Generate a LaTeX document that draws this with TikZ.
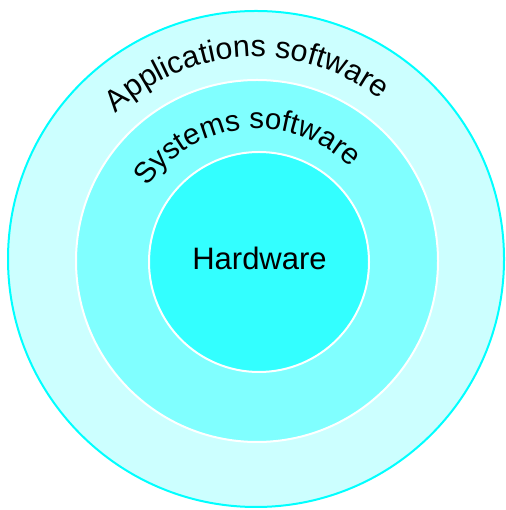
\documentclass[tikz,border=0pt]{standalone}
\usepackage{fontspec}
\setmainfont{Liberation Sans}
\usetikzlibrary{decorations.text}
\definecolor{ringA}{HTML}{CCFFFF}
\definecolor{ringB}{HTML}{80FFFF}
\definecolor{ringC}{HTML}{33FFFF}
\definecolor{edgeA}{HTML}{00FFFF}
\tikzset{
  disc/.style={circle, inner sep=0pt, line width=2pt},
  curvedlabel/.style={decorate, decoration={text along path, text align=center, text={#1}}}
}
\begin{document}
\begin{tikzpicture}[x=1pt,y=1pt]
\useasboundingbox (0,0) rectangle (505,510);
\node[disc, fill=ringA, draw=edgeA, minimum size=496pt] (outer) at (256,251) {};
\node[disc, fill=ringB, draw=white, minimum size=362pt] (middle) at (257,249) {};
\node[disc, fill=ringC, draw=white, minimum size=220pt] (inner) at (259,248) {};
\node[anchor=base, inner sep=0pt, font=\fontsize{31}{31}\selectfont] (hw) at (259.5,240) {Hardware};
\path[curvedlabel={|\fontsize{30.5}{30.5}\selectfont|Applications software}]
  (256,251) ++(163:202) arc[start angle=163, end angle=23, radius=202];
\path[curvedlabel={|\fontsize{29.5}{29.5}\selectfont|Systems software}]
  (257,249) ++(166:132) arc[start angle=166, end angle=25, radius=132];
\end{tikzpicture}
\end{document}
